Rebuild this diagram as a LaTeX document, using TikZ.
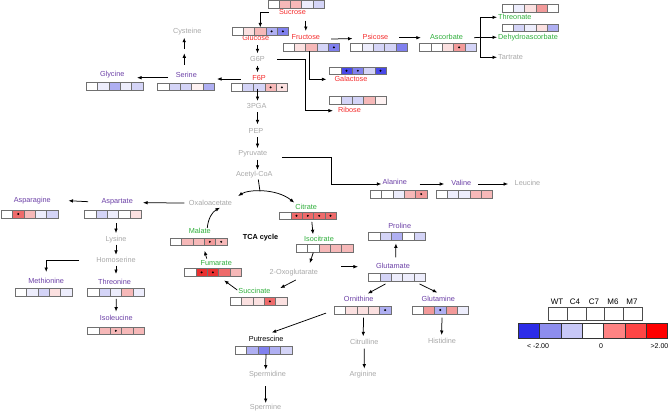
\documentclass[tikz,border=0pt]{standalone}
\usepackage{fontspec}
\setmainfont{Liberation Sans}
\usetikzlibrary{arrows.meta,calc}

\definecolor{tred}{HTML}{F42C2C}
\definecolor{tgreen}{HTML}{2EAE3A}
\definecolor{tpurple}{HTML}{6B3FA6}
\definecolor{tgray}{HTML}{A8A8A8}
\definecolor{cellline}{HTML}{707070}
\definecolor{hw}{HTML}{FFFFFF}
\definecolor{hb1}{HTML}{EDEDFC}
\definecolor{hb2}{HTML}{D4D4F7}
\definecolor{hb3}{HTML}{AFAFF2}
\definecolor{hb4}{HTML}{8080EE}
\definecolor{hb5}{HTML}{4848E8}
\definecolor{hr0}{HTML}{FEF2F2}
\definecolor{hr1}{HTML}{FBE0E0}
\definecolor{hr2}{HTML}{F6B8B8}
\definecolor{hr3}{HTML}{F29A9A}
\definecolor{hr4}{HTML}{EE6A6A}
\definecolor{hr5}{HTML}{EA3030}
\definecolor{lb3}{HTML}{2C2CE8}
\definecolor{lb2}{HTML}{8D8DEE}
\definecolor{lb1}{HTML}{C8C8F7}
\definecolor{lr1}{HTML}{FF8383}
\definecolor{lr2}{HTML}{FF4646}
\definecolor{lr3}{HTML}{FF0000}

\def\cw{11.3}
\newcommand{\hmrow}[4]{%
  \foreach \cc [count=\ci] in {#4} {
    \node[cellbox, fill=\cc] (#1-\ci) at ({#2+(\ci-1)*\cw}, #3) {};
  }%
}
\newcommand{\hmmarks}[2]{%
  \foreach \si in {#2} { \fill (#1-\si) circle (1.1pt); }%
}

\tikzset{
  lbl/.style={font=\fontsize{7.3}{8}\selectfont, inner sep=1pt, text height=5.5pt, text depth=1.5pt},
  sug/.style={lbl, text=tred},
  org/.style={lbl, text=tgreen},
  ami/.style={lbl, text=tpurple},
  mid/.style={lbl, text=tgray},
  blk/.style={lbl, text=black},
  arr/.style={-{Latex[length=4.5pt,width=3.6pt]}, line width=0.75pt},
  plain/.style={line width=0.75pt},
  cellbox/.style={draw=cellline, line width=0.6pt, minimum width=11.3pt, minimum height=7.5pt, inner sep=0pt, anchor=north west},
  legcell/.style={draw=black!70, line width=0.6pt, minimum width=18.8pt, minimum height=13pt, inner sep=0pt, anchor=north west, fill=white},
  barcell/.style={draw=black!80, line width=0.6pt, minimum width=21.3pt, minimum height=15pt, inner sep=0pt, anchor=north west},
  leg/.style={font=\fontsize{8}{9}\selectfont, inner sep=1pt, text=black},
  legs/.style={font=\fontsize{7}{8}\selectfont, inner sep=1pt, text=black},
}

\begin{document}
\begin{tikzpicture}[x=1pt, y=-1pt]
\useasboundingbox (0,0) rectangle (669,413);

% ---------- labels ----------
\node[sug] (suc) at (292.5,12.8) {Sucrose};
\node[sug] (glc) at (255.7,38.3) {Glucose};
\node[sug] (fru) at (305.8,37.7) {Fructose};
\node[sug] (psi) at (375.5,37.3) {Psicose};
\node[org] (asc) at (446.5,37.3) {Ascorbate};
\node[org, anchor=west] (thr) at (497,17.3) {Threonate};
\node[org, anchor=west] (dha) at (497,37.3) {Dehydroascorbate};
\node[mid, anchor=west] (tar) at (497,57.3) {Tartrate};
\node[mid] (g6p) at (257.5,59) {G6P};
\node[sug] (gal) at (351,79.3) {Galactose};
\node[sug] (rib) at (349.5,110.7) {Ribose};
\node[sug] (f6p) at (259,78) {F6P};
\node[mid] (pga) at (256.7,106.7) {3PGA};
\node[mid] (pep) at (256,131) {PEP};
\node[mid] (pyr) at (252.8,153.3) {Pyruvate};
\node[mid] (aco) at (254.3,174.3) {Acetyl-CoA};
\node[mid] (cys) at (187.2,31) {Cysteine};
\node[ami] (ser) at (186.3,75) {Serine};
\node[ami] (gly) at (112.2,74.3) {Glycine};
\node[ami] (ala) at (394.7,182.7) {Alanine};
\node[ami] (val) at (461.3,183) {Valine};
\node[mid] (leu) at (527.5,183) {Leucine};
\node[mid] (oaa) at (210.5,203) {Oxaloacetate};
\node[ami] (asp) at (117.2,201.7) {Aspartate};
\node[ami] (asn) at (32.3,200.7) {Asparagine};
\node[mid] (lys) at (116,239.3) {Lysine};
\node[mid] (hse) at (116,260) {Homoserine};
\node[ami] (met) at (46.2,281.7) {Methionine};
\node[ami] (thre) at (114.5,282.7) {Threonine};
\node[ami] (ile) at (116.3,318.3) {Isoleucine};
\node[org] (cit) at (306.2,207.3) {Citrate};
\node[org] (icit) at (319,239) {Isocitrate};
\node[mid] (ogl) at (293.8,272.3) {2-Oxoglutarate};
\node[org] (suc2) at (254.5,291) {Succinate};
\node[org] (fum) at (216.2,263.3) {Fumarate};
\node[org] (mal) at (199.8,231.7) {Malate};
\node[blk, font=\fontsize{7.3}{8}\selectfont\bfseries] (tca) at (260.5,237.7) {TCA cycle};
\node[ami] (pro) at (399.7,226) {Proline};
\node[ami] (glu) at (393,266) {Glutamate};
\node[ami] (orn) at (358.7,299.3) {Ornithine};
\node[ami] (gln) at (438.3,299.3) {Glutamine};
\node[blk] (put) at (266.2,339.3) {Putrescine};
\node[mid] (spd) at (267.5,374.3) {Spermidine};
\node[mid] (spm) at (265.5,407.7) {Spermine};
\node[mid] (ctl) at (364.2,342.3) {Citrulline};
\node[mid] (arg) at (363,374.3) {Arginine};
\node[mid] (his) at (442,341.7) {Histidine};

% ---------- heat-map strips ----------
\hmrow{sucS}{267.5}{0.4}{hw,hr2,hr2,hb1,hb2}
\hmrow{glcS}{231.7}{27.3}{hw,hr1,hr2,hb3,hb4} \hmmarks{glcS}{4,5}
\hmrow{fruS}{282.7}{43.3}{hw,hr1,hr2,hb2,hb4} \hmmarks{fruS}{5}
\hmrow{psiS}{350.3}{43.3}{hw,hb1,hb2,hb2,hb4}
\hmrow{ascS}{419.3}{43.3}{hw,hw,hr1,hr3,hb2} \hmmarks{ascS}{4}
\hmrow{thrS}{501.7}{4.3}{hw,hb1,hr1,hr3,hw}
\hmrow{dhaS}{501.7}{23.7}{hw,hb2,hb1,hr1,hb3}
\hmrow{galS}{329.3}{66.7}{hw,hb5,hb4,hb2,hb5} \hmmarks{galS}{2,3,5}
\hmrow{ribS}{329.3}{96}{hw,hb2,hb2,hr2,hr0}
\hmrow{f6pS}{230.7}{83.3}{hw,hb2,hb2,hr2,hr1} \hmmarks{f6pS}{4,5}
\hmrow{serS}{157.3}{82.7}{hw,hb2,hb2,hr0,hb3}
\hmrow{glyS}{86}{82.3}{hw,hb1,hb3,hb1,hb2}
\hmrow{alaS}{370}{190}{hw,hw,hb1,hr2,hr3} \hmmarks{alaS}{5}
\hmrow{valS}{435.7}{190}{hw,hb1,hb1,hr2,hr2}
\hmrow{asnS}{1}{210}{hw,hr4,hr2,hb1,hb2} \hmmarks{asnS}{2}
\hmrow{aspS}{84.3}{210}{hw,hb2,hb1,hw,hr1}
\hmrow{citS}{279.3}{211.7}{hw,hr4,hr4,hr4,hr4} \hmmarks{citS}{2,3,4,5}
\hmrow{icitS}{296}{244}{hw,hw,hr2,hr2,hr2}
\hmrow{malS}{170}{237.7}{hw,hr2,hr2,hr3,hr2} \hmmarks{malS}{4,5}
\hmrow{fumS}{184.3}{268.3}{hw,hr5,hr5,hr4,hr2} \hmmarks{fumS}{2,3}
\hmrow{sucT}{230}{297.3}{hw,hr1,hr1,hr4,hr1} \hmmarks{sucT}{4}
\hmrow{proS}{368.3}{232.3}{hw,hb2,hb3,hw,hb2}
\hmrow{gluS}{368.3}{273.3}{hw,hb2,hb1,hb1,hb1}
\hmrow{ornS}{334}{306}{hw,hr1,hr1,hr1,hb3} \hmmarks{ornS}{5}
\hmrow{glnS}{411.7}{306}{hw,hr3,hb3,hr3,hb1} \hmmarks{glnS}{3}
\hmrow{metS}{15}{288.3}{hw,hb1,hb2,hr1,hb1}
\hmrow{threS}{87.3}{288.3}{hw,hb2,hb1,hr2,hb1}
\hmrow{ileS}{87.3}{326.7}{hw,hr2,hr2,hr2,hr2} \hmmarks{ileS}{3}
\hmrow{putS}{235}{346}{hw,hb3,hb4,hb3,hb2}

% ---------- connectors ----------
% sugars
\draw[arr] ($(suc.west)+(-9,0)$) -| (glcS-3.north);
\draw[arr, shorten <=3pt, shorten >=2pt] (fru.north |- suc.south) -- (fru.north);
\draw[arr] ($(fru.east)+(10,1.3)$) -- ($(psi.west)+(-9,1.3)$);
\draw[arr] ($(psi.east)+(10,0.4)$) -- ($(asc.west)+(-8,0.4)$);
\coordinate (br) at ($(dha.west)+(-16.3,0)$);
\draw[plain] ($(asc.east)+(10,0.4)$) -- (br);
\draw[arr] (br) -- (dha.west);
\draw[arr] (br) |- (thr.west);
\draw[arr] (br) |- (tar.west);
\draw[arr, shorten <=2pt, shorten >=1pt] (g6p.north |- glc.south) -- (g6p.north);
\draw[arr, shorten <=2pt, shorten >=1pt] (g6p.south) -- (g6p.south |- f6p.north);
\draw[arr] ($(g6p.south |- f6p.south)+(0,6)$) -- ($(g6p.south |- pga.north)+(0,-1)$);
\draw[arr] ($(g6p.south |- pga.south)+(0,1)$) -- ($(g6p.south |- pep.north)+(0,-2)$);
\draw[arr] ($(g6p.south |- pep.south)+(0,1.5)$) -- ($(g6p.south |- pyr.north)+(0,-0.5)$);
\draw[arr] ($(g6p.south |- pyr.south)+(0,1.5)$) -- ($(g6p.south |- aco.north)+(0,0.2)$);
\draw[arr] ($(g6p.east)+(11,0)$) -| ($(rib.west)+(-32,0)$) -- ($(rib.west)+(-4,0)$);
\draw[arr] ($(fruS-3.south)+(-1.5,0)$) |- ($(gal.west)+(-7,0)$);
\draw[arr] ($(f6p.west)+(-10.5,1)$) -- ($(serS-5.north east)+(2.6,-3.7)$);
\draw[arr] ($(ser.north)+(-2,-5.5)$) -- ($(ser.north)+(-2,-17)$);
\draw[arr] ($(cys.south)+(-3,13.5)$) -- ($(cys.south)+(-3,2)$);
\draw[arr] ($(ser.west)+(-6.5,2.7)$) -- ($(gly.east)+(11.5,3.4)$);
% amino acids from pyruvate
\draw[arr] ($(pyr.east)+(13.5,4)$) -| ($(ala.west)+(-49.5,1.3)$) -- ($(ala.west)+(0,1.3)$);
\draw[arr] ($(ala.east)+(11.5,1.3)$) -- ($(val.west)+(-6,1)$);
\draw[arr] ($(val.east)+(6,1)$) -- ($(leu.west)+(-5.4,1)$);
% TCA cycle
\draw[{Latex[length=4.5pt,width=3.6pt]}-{Latex[length=4.5pt,width=3.6pt]}, line width=0.75pt] ($(oaa.east)+(5,-7)$) .. controls (248,189.5) and (276,188) .. (cit.north west);
\draw[plain] ($(aco.south)+(4,0.5)$) -- ($(aco.south)+(5.7,12.4)$);
\draw[arr] ($(citS-3.south)+(4,2)$) -- ($(icit.north)+(-6,0)$);
\draw[arr] ($(icitS-2.south)+(0,0.5)$) -- ($(ogl.north)+(16,-4.5)$);
\draw[arr] ($(ogl.east)+(22,-5.6)$) -- ($(glu.west)+(-17,0.7)$);
\draw[arr] ($(ogl.south)+(2,3)$) -- ($(suc2.north east)+(8.5,1.8)$);
\draw[arr] ($(suc2.west)+(0,-1)$) -- ($(fumS-4.south)+(0,4)$);
\draw[arr] ($(fum.north)+(-9.5,0)$) -- ($(malS-4.south)+(-5.3,5)$);
\draw[arr] ($(mal.north)+(7.5,1)$) .. controls (208,219) and (212,212) .. ($(oaa.south)+(9.5,0)$);
\draw[arr] ($(oaa.west)+(-3.5,0)$) -- ($(asp.east)+(9,1)$);
% aspartate family
\draw[arr] ($(asp.west)+(-12.3,0)$) -- ($(asn.east)+(16.5,0)$);
\draw[arr] ($(lys.north |- aspS-3.south)+(0,5)$) -- ($(lys.north)+(0,-1.5)$);
\draw[arr, shorten <=0.5pt, shorten >=0.5pt] (lys.south) -- (hse.north);
\draw[arr] ($(hse.west)+(-16,0)$) -| ($(met.north)+(0,-5)$);
\draw[arr, shorten <=1pt, shorten >=4pt] (hse.south) -- (hse.south |- thre.north);
\draw[arr] ($(threS-3.south)+(0.5,2.5)$) -- ($(ile.north)+(-0.3,-2)$);
% glutamate family
\draw[arr] ($(glu.north)+(2.7,-4)$) -- ($(proS-3.south)+(-0.9,3)$);
\draw[arr] ($(gluS-2.south)+(0,2.5)$) -- ($(orn.north)+(9,-1)$);
\draw[arr] ($(gluS-5.south)+(0,2.5)$) -- ($(gln.north)+(-1,-2)$);
\draw[arr] ($(ornS-1.south west)+(-8,-1)$) -- ($(put.north)+(5.5,-2)$);
\draw[arr] ($(ornS-3.south)+(1,3.4)$) -- ($(ctl.north)+(-1,-1.3)$);
\draw[arr] ($(ctl.south)+(0,1.5)$) -- ($(arg.north)+(1.3,-1)$);
\draw[arr] ($(glnS-3.south)+(1.7,3.4)$) -- ($(his.north)+(-0.3,-2)$);
\draw[arr] ($(putS-3.south)+(2.4,0)$) -- ($(spd.north)+(-1.8,0)$);
\draw[arr] ($(spd.south)+(-1.8,7)$) -- ($(spm.north)+(0.2,0)$);

% ---------- legend ----------
\foreach \i in {1,...,5} { \node[legcell] (lh-\i) at ({548+(\i-1)*18.8},307) {}; }
\node[leg] (lWT) at (557,302) {WT};
\node[leg] (lC4) at (575,302) {C4};
\node[leg] (lC7) at (594,302) {C7};
\node[leg] (lM6) at (613,302) {M6};
\node[leg] (lM7) at (632,302) {M7};
\foreach \cc [count=\i] in {lb3,lb2,lb1,hw,lr1,lr2,lr3} {
  \node[barcell, fill=\cc] (lb-\i) at ({518+(\i-1)*21.3},323) {};
}
\node[legs] (lmin) at (538,346) {< -2.00};
\node[legs] (lzero) at (601,346) {0};
\node[legs, anchor=east] (lmax) at (669.5,346) {>2.00};
\end{tikzpicture}
\end{document}
